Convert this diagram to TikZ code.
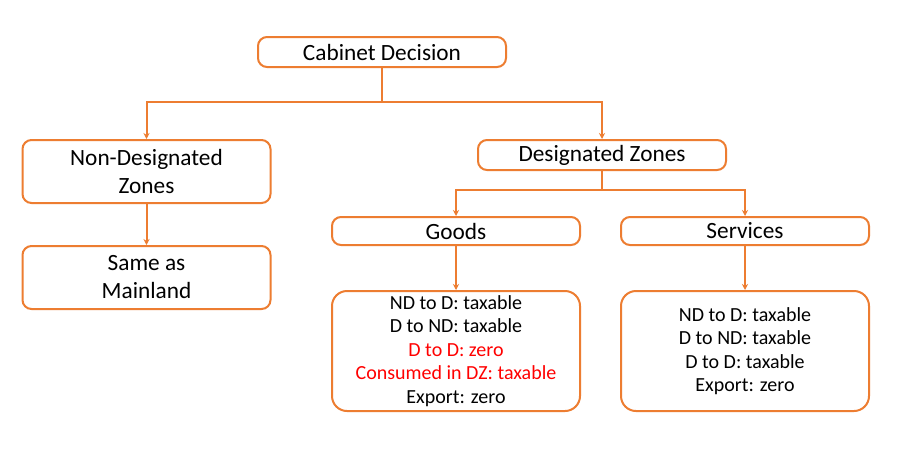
\documentclass[tikz,border=0pt]{standalone}
\usepackage{fontspec}
\setmainfont{Carlito}
\usetikzlibrary{arrows.meta}
\definecolor{zoneorange}{HTML}{ED7D31}
\definecolor{zonered}{HTML}{FF0000}
\tikzset{
zonebox/.style={draw = zoneorange, line width = 2pt, rounded corners = 9pt, minimum width = 248pt, align = center, inner sep = 0pt},
bigtext/.style={font = \fontsize{23.3}{28}\selectfont},
smalltext/.style={font = \fontsize{20}{23.5}\selectfont},
link/.style={draw = zoneorange, line width = 2pt},
linkarrow/.style={link, -{Stealth[length = 6pt, width = 6pt]}}
}
\begin{document}
\begin{tikzpicture}[x=1pt,y=-1pt]
\useasboundingbox [fill = white] (0,0) rectangle (901,448);

\node [zonebox, bigtext, minimum height = 30pt] (cabinet) at (382,52) {Cabinet Decision};
\node [zonebox, bigtext, minimum height = 63pt] (nondz) at (146.5,171.5) {Non-Designated\\Zones};
\node [zonebox, bigtext, minimum height = 63pt] (mainland) at (146.5,277.5) {Same as\\Mainland};
\node [zonebox, bigtext, minimum height = 30pt] (dz) at (602,155) {Designated Zones};
\node [zonebox, bigtext, minimum height = 28pt] (goods) at (456,231) {Goods};
\node [zonebox, bigtext, minimum height = 28pt] (services) at (745,231) {Services};

\node [zonebox, smalltext, rounded corners = 15pt, minimum height = 120pt] (goodsrules) at (456,351) {ND to D: taxable\\D to ND: taxable\\\textcolor{zonered}{D to D: zero}\\\textcolor{zonered}{Consumed in DZ: taxable}\\Export: zero};
\node [zonebox, smalltext, rounded corners = 15pt, minimum height = 120pt] (servicesrules) at (745,351) {ND to D: taxable\\D to ND: taxable\\D to D: taxable\\Export: zero};

%% top split
\coordinate (split) at (382,102);
\draw [link] (cabinet.south) -- (split);
\draw [linkarrow] (split) -| (nondz.north);
\draw [linkarrow] (split) -| (dz.north);

%% designated zones split
\coordinate (dzsplit) at (602,190);
\draw [link] (dz.south) -- (dzsplit);
\draw [linkarrow] (dzsplit) -| (goods.north);
\draw [linkarrow] (dzsplit) -| (services.north);

\draw [linkarrow] (nondz.south) -- (mainland.north);
\draw [linkarrow] (goods.south) -- (goodsrules.north);
\draw [linkarrow] (services.south) -- (servicesrules.north);
\end{tikzpicture}
\end{document}
